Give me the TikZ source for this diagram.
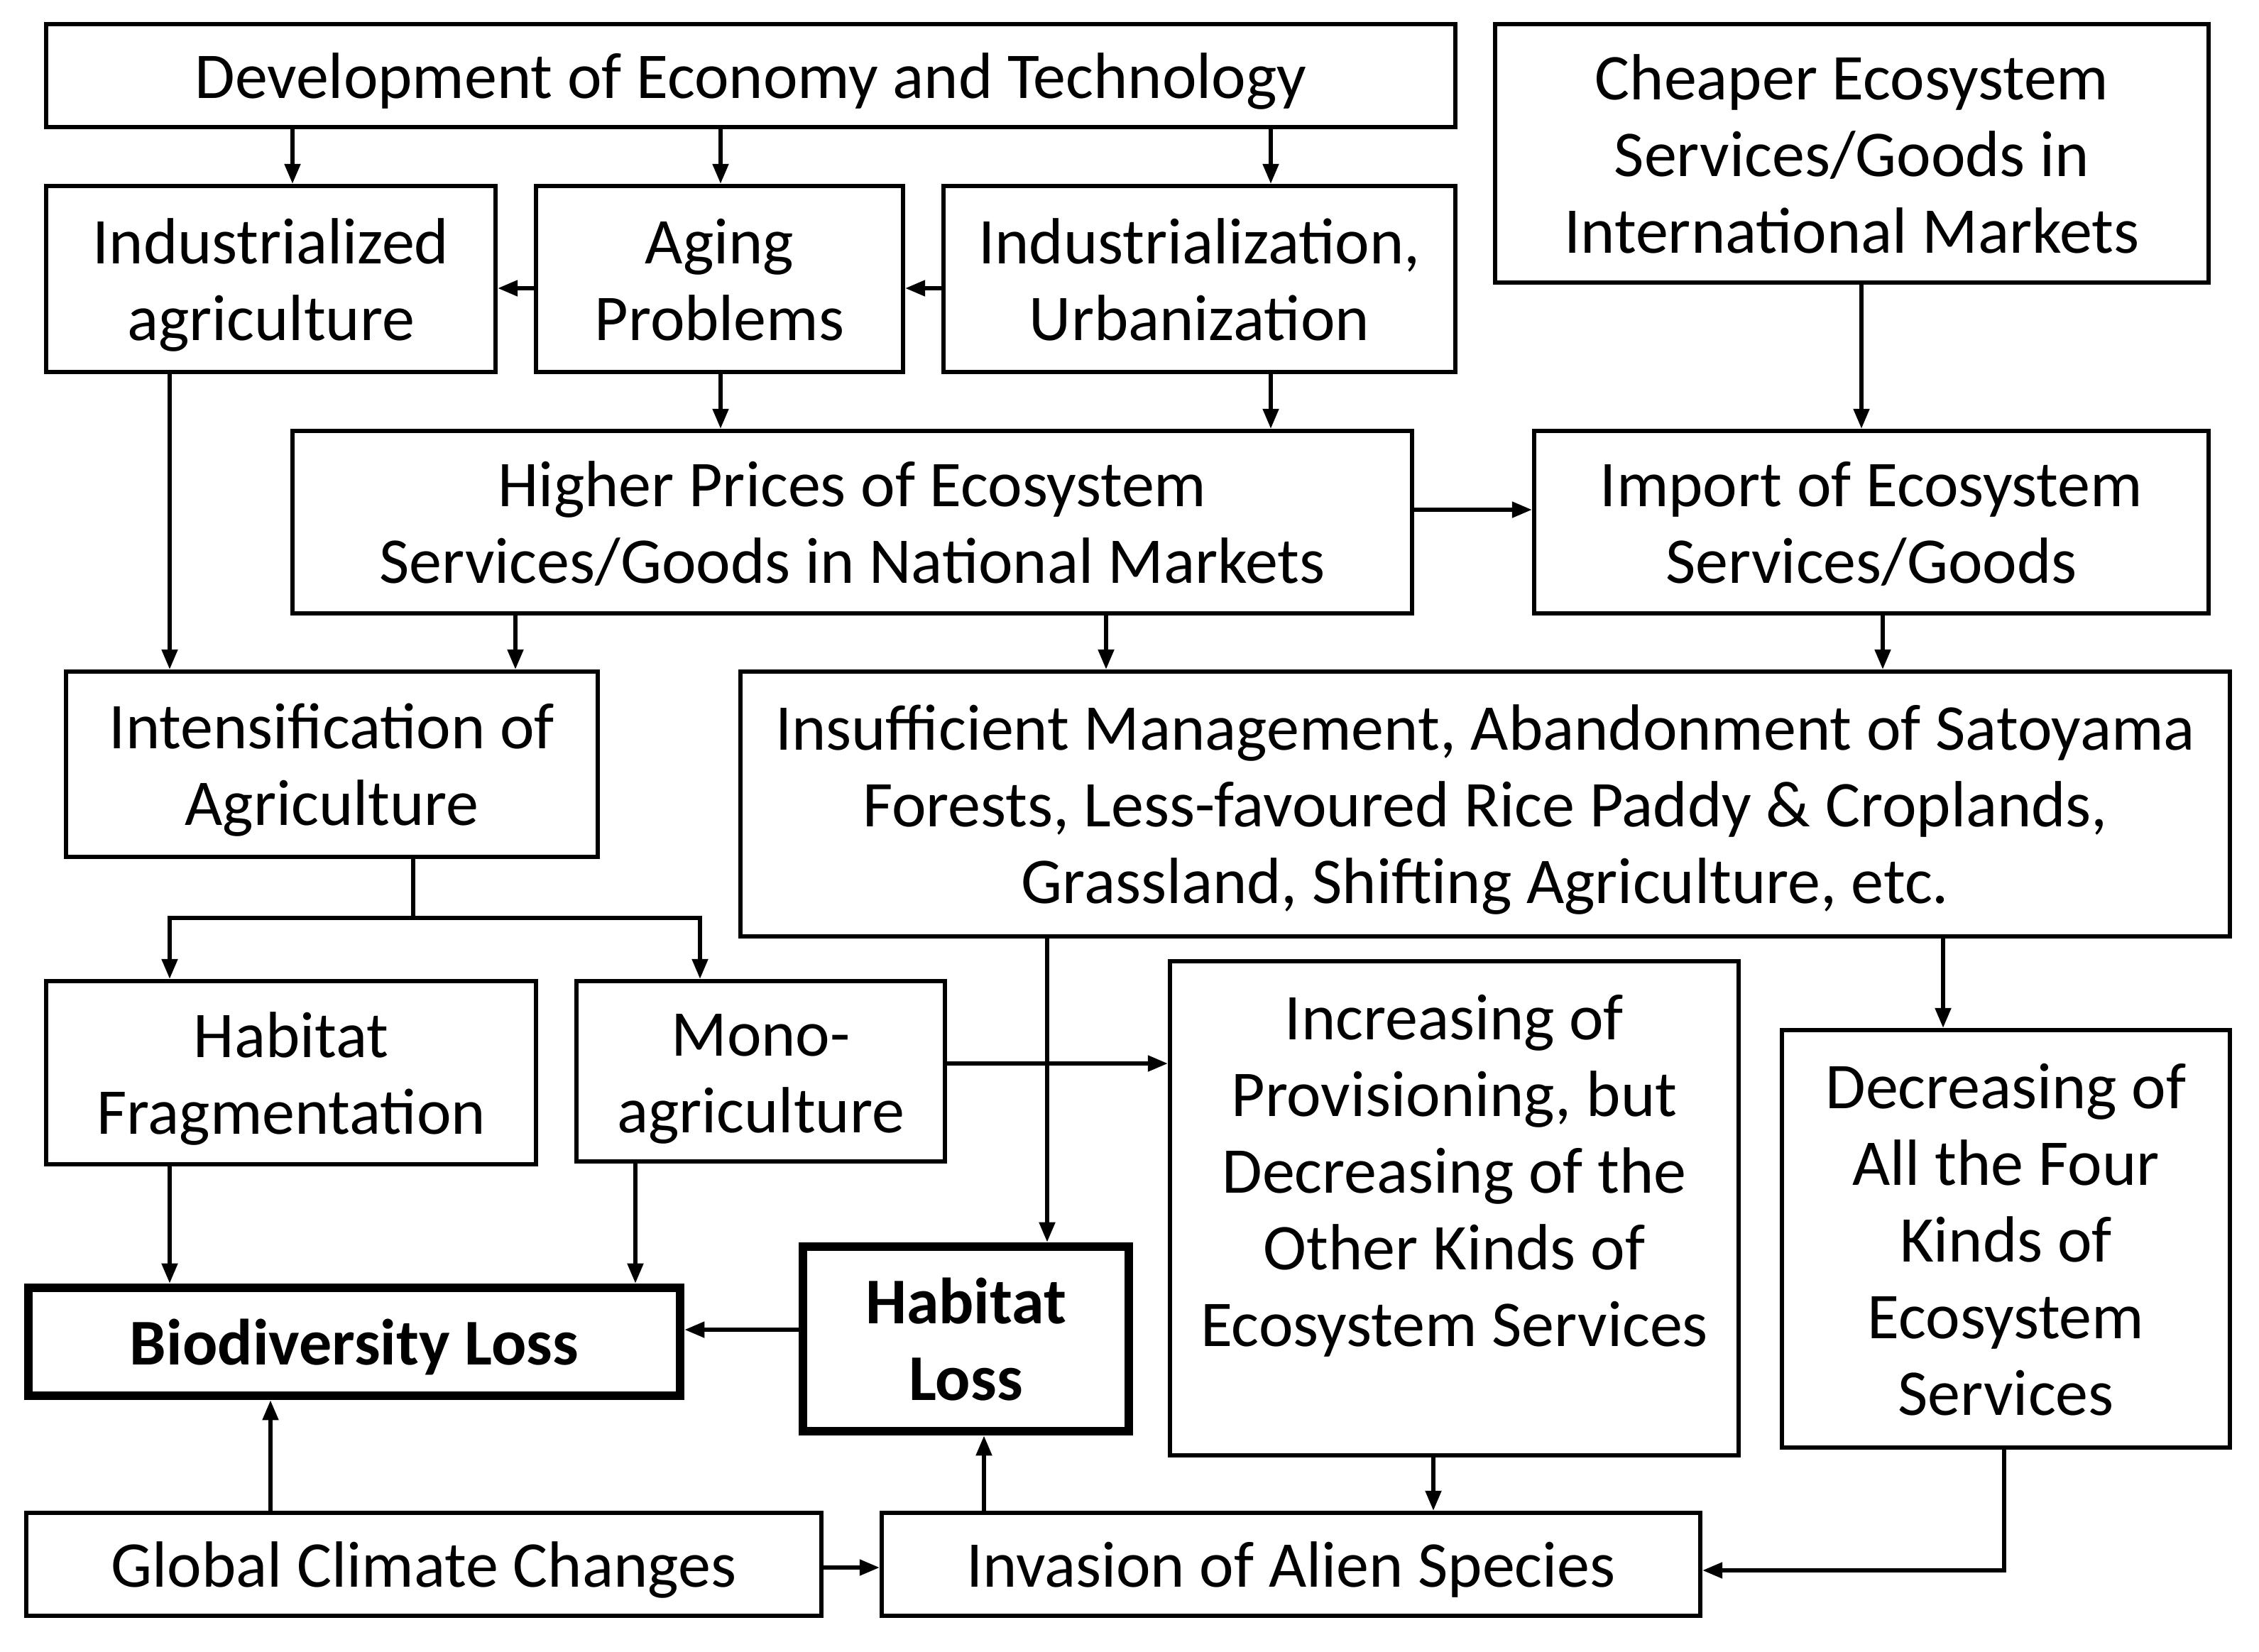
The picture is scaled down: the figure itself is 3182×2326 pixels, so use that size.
\documentclass[tikz,border=0pt]{standalone}
\usepackage{fontspec}
\setmainfont{Carlito}
\usetikzlibrary{arrows.meta}
\tikzset{
  box/.style={draw, line width=1.6pt, inner sep=0pt, align=center, font=\fontsize{23}{27}\selectfont},
  thickbox/.style={box, line width=3.2pt, font=\fontsize{23}{27}\selectfont\bfseries},
  arr/.style={line width=1.3pt, -{Triangle[length=7pt,width=5.5pt]}},
  plainline/.style={line width=1.3pt}
}
\newcommand\mybox[7]{\node[#1, minimum width={(#5-#3)*0.25pt}, minimum height={(#6-#4)*0.25pt}] (#2) at ({(#3+#5)/2},{(#4+#6)/2}) {\raisebox{-2.6pt}[\height][\depth]{\begin{tabular}{@{}c@{}}#7\end{tabular}}};}
\begin{document}
\begin{tikzpicture}[x=0.25pt,y=-0.25pt]
\useasboundingbox (0,0) rectangle (3182,2326);
\mybox{box}{dev}{65}{34}{2050}{179}{Development of Economy and Technology}
\mybox{box}{cheaper}{2106}{34}{3111}{398}{Cheaper Ecosystem\\Services/Goods in\\International Markets}
\mybox{box}{indag}{65}{262}{698}{524}{Industrialized\\agriculture}
\mybox{box}{aging}{755}{262}{1272}{524}{Aging\\Problems}
\mybox{box}{indus}{1329}{262}{2050}{524}{Industrialization,\\Urbanization}
\mybox{box}{higher}{412}{607}{1989}{864}{Higher Prices of Ecosystem\\Services/Goods in National Markets}
\mybox{box}{import}{2161}{607}{3111}{864}{Import of Ecosystem\\Services/Goods}
\mybox{box}{intens}{93}{946}{842}{1207}{Intensification of\\Agriculture}
\mybox{box}{insuf}{1043}{946}{3141}{1319}{Insufficient Management, Abandonment of Satoyama\\Forests, Less-favoured Rice Paddy \& Croplands,\\Grassland, Shifting Agriculture, etc.}
\mybox{box}{habfrag}{65}{1382}{755}{1640}{Habitat\\Fragmentation}
\mybox{box}{mono}{812}{1382}{1331}{1636}{Mono-\\agriculture}
\mybox{box}{incr}{1648}{1354}{2449}{2050}{Increasing of\\Provisioning, but\\Decreasing of the\\Other Kinds of\\Ecosystem Services\\\mbox{}}
\mybox{box}{decr}{2510}{1451}{3141}{2039}{Decreasing of\\All the Four\\Kinds of\\Ecosystem\\Services}
\mybox{thickbox}{bio}{40}{1814}{958}{1966}{Biodiversity Loss}
\mybox{thickbox}{habloss}{1131}{1756}{1590}{2016}{Habitat\\Loss}
\mybox{box}{global}{37}{2131}{1157}{2276}{Global Climate Changes}
\mybox{box}{invasion}{1242}{2131}{2395}{2276}{Invasion of Alien Species}

\draw[arr] (dev.south -| 412,0) -- (indag.north -| 412,0);
\draw[arr] (dev.south -| 1015,0) -- (aging.north -| 1015,0);
\draw[arr] (dev.south -| 1790,0) -- (indus.north -| 1790,0);
\draw[arr] (indus.west |- 0,406) -- (aging.east |- 0,406);
\draw[arr] (aging.west |- 0,406) -- (indag.east |- 0,406);
\draw[arr] (aging.south -| 1015,0) -- (higher.north -| 1015,0);
\draw[arr] (indus.south -| 1790,0) -- (higher.north -| 1790,0);
\draw[arr] (cheaper.south -| 2622,0) -- (import.north -| 2622,0);
\draw[arr] (higher.east |- 0,718) -- (import.west |- 0,718);
\draw[arr] (indag.south -| 239,0) -- (intens.north -| 239,0);
\draw[arr] (higher.south -| 726,0) -- (intens.north -| 726,0);
\draw[arr] (higher.south -| 1558,0) -- (insuf.north -| 1558,0);
\draw[arr] (import.south -| 2652,0) -- (insuf.north -| 2652,0);
\coordinate (fk) at (582,1293);
\draw[plainline] (intens.south -| fk) -- (fk);
\draw[arr] (fk) -| (habfrag.north -| 239,0);
\draw[arr] (fk) -| (mono.north -| 986,0);
\draw[arr] (mono.east |- 0,1498) -- (incr.west |- 0,1498);
\draw[arr] (insuf.south -| 1475,0) -- (habloss.north -| 1475,0);
\draw[arr] (insuf.south -| 2737,0) -- (decr.north -| 2737,0);
\draw[arr] (habfrag.south -| 239,0) -- (bio.north -| 239,0);
\draw[arr] (mono.south -| 895,0) -- (bio.north -| 895,0);
\draw[arr] (habloss.west |- 0,1873) -- (bio.east |- 0,1873);
\draw[arr] (global.north -| 381,0) -- (bio.south -| 381,0);
\draw[arr] (global.east |- 0,2208) -- (invasion.west |- 0,2208);
\draw[arr] (invasion.north -| 1386,0) -- (habloss.south -| 1386,0);
\draw[arr] (incr.south -| 2019,0) -- (invasion.north -| 2019,0);
\draw[arr] (decr.south -| 2823,0) |- (invasion.east |- 0,2212);
\end{tikzpicture}
\end{document}
